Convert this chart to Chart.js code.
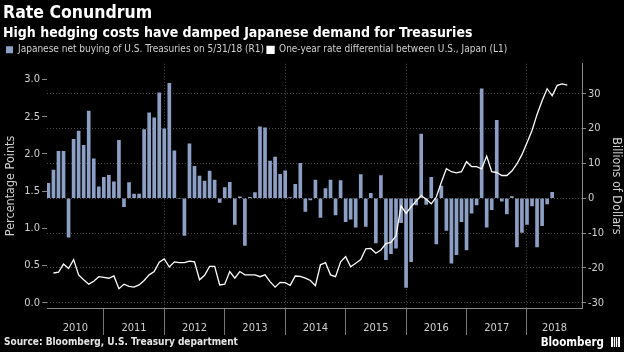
<!DOCTYPE html>
<html>
<head>
<meta charset="utf-8">
<script src="https://cdn.jsdelivr.net/npm/chart.js@4.4.1/dist/chart.umd.min.js"></script>
<style>
  html, body { margin: 0; padding: 0; background: #000; }
  #wrap { position: relative; width: 624px; height: 352px; }
  #source { position: absolute; left: 4px; top: 336px; font: bold 10px "DejaVu Sans Condensed", "DejaVu Sans"; color: #e6e6e6; white-space: nowrap; }
  #brand { position: absolute; right: 4px; top: 335px; font: bold 11.5px "DejaVu Sans Condensed", "DejaVu Sans"; color: #fff; white-space: nowrap; }
  .logo { display: inline-block; width: 9px; height: 10px; margin-left: 7px; vertical-align: -1px;
          background: linear-gradient(to right, #fff 2px, #333 2px 3px, #fff 3px 4px, #333 4px 5px, #fff 5px 6px, #333 6px 7px, #fff 7px); }
</style>
</head>
<body>
<div id="wrap">
  <canvas id="chart" width="624" height="352"></canvas>
  <div id="source">Source: Bloomberg, U.S. Treasury department</div>
  <div id="brand">Bloomberg<span class="logo"></span></div>
</div>
<script>
// monthly, month-end values
const barStart = [2010, 1];   // Jan 2010 .. May 2018
const lineStart = [2010, 2];  // Feb 2010 .. Aug 2018

// Japanese net buying of U.S. Treasuries, billions of dollars (right axis)
const netBuying = [
    4.3, 8.1, 13.5, 13.5, -11.2, 16.9, 19.3, 15.2, 25.0, 11.3, 3.3, 6.0,
    6.6, 4.7, 16.6, -2.4, 4.5, 1.2, 1.2, 19.7, 24.5, 23.1, 30.3, 19.9,
    33.0, 13.6, 0, -10.7, 15.6, 9.2, 6.4, 4.9, 7.8, 5.2, -1.2, 3.1,
    4.6, -7.5, 0.4, -13.5, 0.3, 1.6, 20.5, 20.2, 10.7, 11.8, 6.9, 7.9,
    0.2, 4.0, 10.0, -3.8, -0.5, 5.2, -5.5, 2.8, 5.2, -4.8, 5.1, -6.7,
    -6.0, -8.3, 6.8, -8.1, 1.4, -12.8, 6.5, -17.6, -15.9, -14.3, -7.0, -25.6,
    -18.2, -1.9, 18.4, -1.8, 6.0, -13.1, 3.5, -9.2, -18.6, -16.2, -6.7, -14.8,
    -4.3, -1.9, 31.4, -8.3, -3.3, 22.4, -0.8, -4.5, 0.5, -14.0, -9.8, -7.5,
    -2.2, -14.0, -7.9, -1.6, 1.7
];

// one-year rate differential U.S. - Japan, percentage points (left axis)
const rateDiff = [
    0.40, 0.41, 0.52, 0.46, 0.58, 0.375, 0.31, 0.25, 0.29, 0.35, 0.34,
    0.33, 0.36, 0.19, 0.25, 0.22, 0.21, 0.24, 0.30, 0.375, 0.42, 0.545, 0.59,
    0.48, 0.55, 0.54, 0.54, 0.56, 0.55, 0.31, 0.37, 0.49, 0.49, 0.24, 0.25,
    0.42, 0.33, 0.42, 0.375, 0.375, 0.375, 0.35, 0.375, 0.285, 0.21, 0.275, 0.27,
    0.235, 0.36, 0.355, 0.33, 0.30, 0.23, 0.51, 0.54, 0.375, 0.35, 0.55, 0.62,
    0.485, 0.53, 0.58, 0.725, 0.73, 0.665, 0.71, 0.795, 0.81, 0.90, 1.30, 1.20,
    1.29, 1.365, 1.44, 1.39, 1.33, 1.42, 1.62, 1.80, 1.76, 1.745, 1.76, 1.895,
    1.83, 1.83, 1.80, 1.97, 1.76, 1.75, 1.71, 1.71, 1.77, 1.865, 1.99, 2.15,
    2.315, 2.53, 2.715, 2.875, 2.78, 2.92, 2.94, 2.925
];

const yearLabels = ["2010", "2011", "2012", "2013", "2014", "2015", "2016", "2017", "2018"];
const leftTicks = [0, 0.5, 1.0, 1.5, 2.0, 2.5, 3.0];
const rightTicks = [-30, -20, -10, 0, 10, 20, 30];

const toPoints = (start, values) => values.map((v, i) => ({
    x: start[0] + (start[1] + i) / 12,
    y: v
}));

const tickFont = { family: "DejaVu Sans Condensed", size: 11 };
const titleFont = { family: "DejaVu Sans Condensed", size: 12.5 };

/* legend box is a little shorter than Chart.js makes it */
const legendGap = {
    id: "legendGap",
    beforeInit(chart) {
        const fit = chart.legend.fit;
        chart.legend.fit = function () {
            fit.bind(chart.legend)();
            this.height -= 1;
        };
    }
};

new Chart(document.getElementById("chart"), {
    type: "bar",
    data: {
        datasets: [{
            label: "Japanese net buying of U.S. Treasuries on 5/31/18 (R1)",
            data: toPoints(barStart, netBuying),
            backgroundColor: "#8c9fc5",
            borderWidth: 0,
            barThickness: 3,
            yAxisID: "yR",
            order: 1
        }, {
            type: "line",
            label: "One-year rate differential between U.S., Japan (L1)",
            data: toPoints(lineStart, rateDiff),
            borderColor: "#ffffff",
            backgroundColor: "#ffffff",
            borderWidth: 1.3,
            pointRadius: 0,
            tension: 0,
            yAxisID: "yL",
            order: 0
        }]
    },
    options: {
        responsive: false,
        animation: false,
        layout: { padding: { left: 3, right: 0, top: 0, bottom: 14 } },
        plugins: {
            title: {
                display: true,
                text: "Rate Conundrum",
                align: "start",
                color: "#ffffff",
                font: { family: "DejaVu Sans Condensed", weight: "bold", size: 17.5 },
                padding: { top: 3, bottom: 0 }
            },
            subtitle: {
                display: true,
                text: "High hedging costs have damped Japanese demand for Treasuries",
                align: "start",
                color: "#ffffff",
                font: { family: "DejaVu Sans Condensed", weight: "bold", size: 14 },
                padding: { top: 1, bottom: 0 }
            },
            legend: {
                align: "start",
                labels: {
                    color: "#d0d0d0",
                    boxWidth: 7,
                    boxHeight: 7,
                    padding: 3,
                    font: { family: "DejaVu Sans Condensed", size: 10 },
                    sort: (a, b) => a.datasetIndex - b.datasetIndex
                }
            },
            tooltip: { enabled: false }
        },
        scales: {
            x: {
                type: "linear",
                min: 2010.06,
                max: 2018.91,
                offset: false,
                afterBuildTicks: s => {
                    const t = [];
                    yearLabels.forEach((y, i) => {
                        const yr = Number(y);
                        if (i > 0) t.push({ value: yr });
                        const a = Math.max(yr, s.min), b = Math.min(yr + 1, s.max);
                        t.push({ value: (a + b) / 2, yr: y });
                    });
                    s.ticks = t;
                },
                afterFit: s => { s.height = 30; },
                ticks: {
                    autoSkip: false,
                    maxRotation: 0,
                    color: "#d0d0d0",
                    font: tickFont,
                    padding: -13,
                    callback: (v, i, ticks) => ticks[i].yr || ""
                },
                grid: {
                    offset: false,
                    color: c => (c.tick && !c.tick.yr && c.tick.value % 2 === 0) ? "#4a4a4a" : "transparent",
                    tickColor: c => (c.tick && !c.tick.yr) ? "#777" : "transparent",
                    tickLength: 27
                },
                border: { color: "#888", dash: [1, 2] }
            },
            yL: {
                position: "left",
                min: -0.07,
                max: 3.21,
                afterBuildTicks: s => { s.ticks = leftTicks.map(v => ({ value: v })); },
                afterFit: s => { s.width = 44; },
                ticks: {
                    color: "#d0d0d0",
                    font: tickFont,
                    padding: 2,
                    callback: v => v.toFixed(1)
                },
                grid: { drawOnChartArea: false, tickLength: 5, tickColor: "#888" },
                border: { display: false },
                title: {
                    display: true,
                    text: "Percentage Points",
                    color: "#d0d0d0",
                    font: titleFont,
                    padding: { top: 0, bottom: 2 }
                }
            },
            yR: {
                position: "right",
                min: -31.5,
                max: 38.6,
                afterBuildTicks: s => { s.ticks = rightTicks.map(v => ({ value: v })); },
                afterFit: s => { s.width = 42; },
                ticks: {
                    color: "#d0d0d0",
                    font: tickFont,
                    padding: 2,
                    callback: v => String(v)
                },
                grid: { color: "#4a4a4a", tickLength: 4, tickColor: "#888" },
                border: { color: "#888", dash: [1, 2] },
                title: {
                    display: true,
                    text: "Billions of Dollars",
                    color: "#d0d0d0",
                    font: titleFont,
                    padding: { top: 0, bottom: 2 }
                }
            }
        }
    },
    plugins: [legendGap]
});
</script>
</body>
</html>
